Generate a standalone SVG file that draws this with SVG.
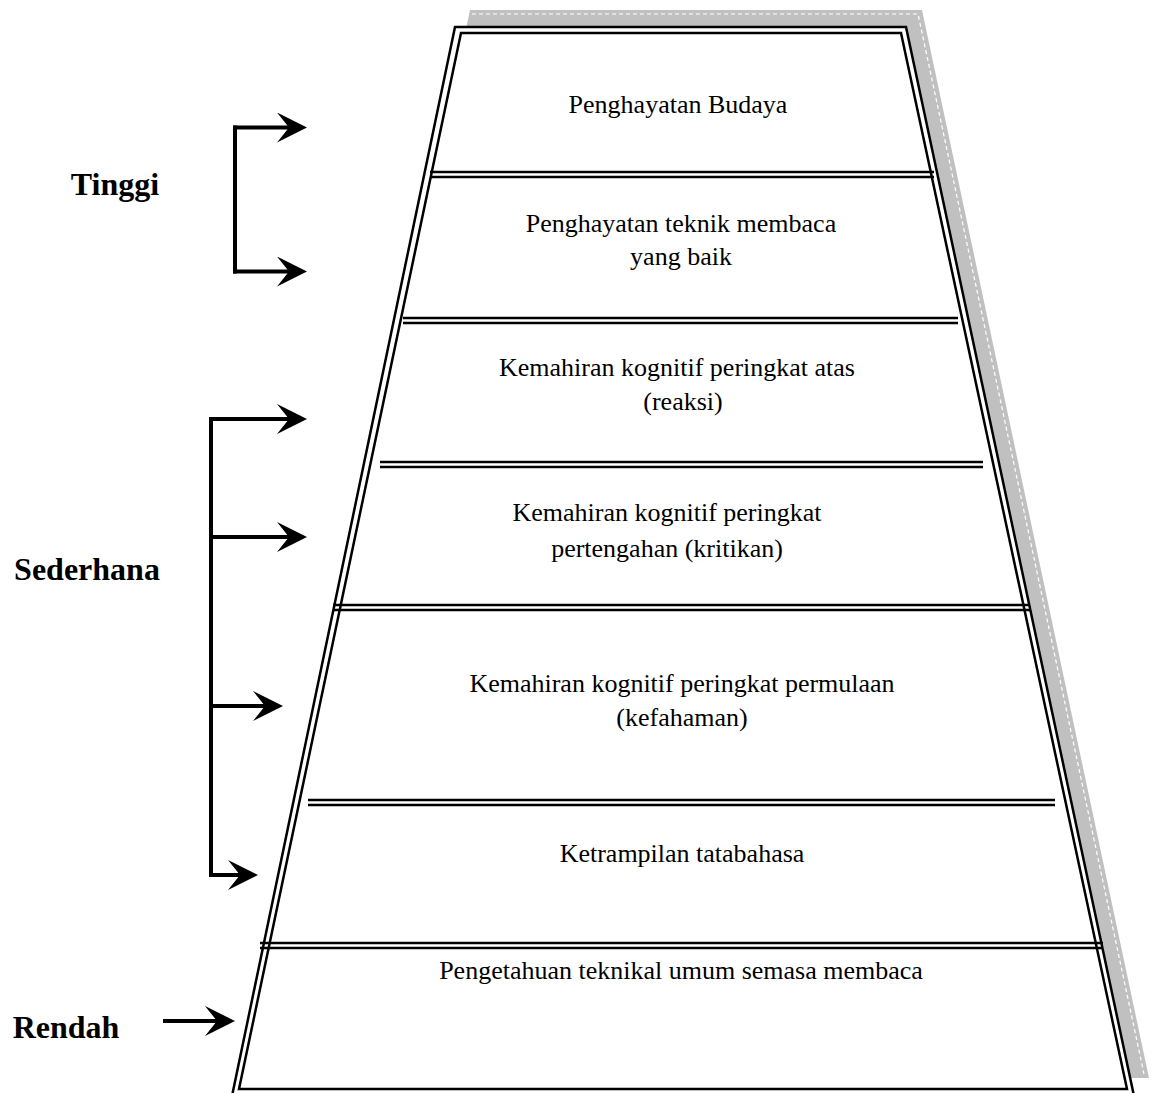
<svg xmlns="http://www.w3.org/2000/svg" width="1155" height="1093" viewBox="0 0 1155 1093">
<style>
.t{font-family:"Liberation Serif","Times New Roman",serif;font-size:26px;fill:#000;text-anchor:middle}
.b{font-family:"Liberation Serif","Times New Roman",serif;font-size:32px;font-weight:bold;fill:#000;text-anchor:middle}
.edge{fill:none;stroke:#000;stroke-width:2.5}
.div{stroke:#000;stroke-width:2.5}
.arr{fill:none;stroke:#000;stroke-width:4;stroke-linecap:square}
</style>
<defs>
<marker id="ah" viewBox="0 0 30 30" markerWidth="30" markerHeight="30" markerUnits="userSpaceOnUse" refX="12" refY="15" orient="auto">
<path d="M0,0 L30,15 L0,30 L12,15 Z" fill="#000"/>
</marker>
</defs>
<rect width="1155" height="1093" fill="#fff"/>
<g id="shadow">
<polygon points="470,10 922,10 1149,1078 248,1078" fill="#c0c0c0"/>
<polyline points="472,14 918,14 1144,1074" fill="none" stroke="#fff" stroke-width="1.2" stroke-dasharray="4,3"/>
</g>
<g id="pyramid">
<polygon points="455,27 906,27 1134,1096 232,1096" fill="#fff" stroke="#000" stroke-width="2.5"/>
<polygon points="461,33 901,33 1127,1089 239,1089" class="edge"/>
</g>
<g id="dividers">
<line class="div" x1="430" y1="172" x2="934" y2="172"/><line class="div" x1="430" y1="177" x2="934" y2="177"/>
<line class="div" x1="403" y1="318" x2="958" y2="318"/><line class="div" x1="403" y1="323" x2="958" y2="323"/>
<line class="div" x1="380" y1="462" x2="983" y2="462"/><line class="div" x1="380" y1="467" x2="983" y2="467"/>
<line class="div" x1="333" y1="605" x2="1030" y2="605"/><line class="div" x1="333" y1="610" x2="1030" y2="610"/>
<line class="div" x1="308" y1="800" x2="1055" y2="800"/><line class="div" x1="308" y1="805" x2="1055" y2="805"/>
<line class="div" x1="260" y1="943" x2="1103" y2="943"/><line class="div" x1="260" y1="948" x2="1103" y2="948"/>
</g>
<g id="level1"><text class="t" x="678" y="113">Penghayatan Budaya</text></g>
<g id="level2"><text class="t" x="681" y="232">Penghayatan teknik membaca</text><text class="t" x="681" y="265">yang baik</text></g>
<g id="level3"><text class="t" x="677" y="376">Kemahiran kognitif peringkat atas</text><text class="t" x="683" y="410">(reaksi)</text></g>
<g id="level4"><text class="t" x="667" y="521">Kemahiran kognitif peringkat</text><text class="t" x="667" y="557">pertengahan (kritikan)</text></g>
<g id="level5"><text class="t" x="682" y="692">Kemahiran kognitif peringkat permulaan</text><text class="t" x="682" y="726">(kefahaman)</text></g>
<g id="level6"><text class="t" x="682" y="862">Ketrampilan tatabahasa</text></g>
<g id="level7"><text class="t" x="681" y="979">Pengetahuan teknikal umum semasa membaca</text></g>
<g id="label-tinggi"><text class="b" x="115" y="195">Tinggi</text></g>
<g id="label-sederhana"><text class="b" x="87" y="580">Sederhana</text></g>
<g id="label-rendah"><text class="b" x="66" y="1038">Rendah</text></g>
<g id="connectors">
<path class="arr" d="M235,127.5 V271.5"/>
<path class="arr" d="M235,127.5 H289" marker-end="url(#ah)"/>
<path class="arr" d="M235,271.5 H289" marker-end="url(#ah)"/>
<path class="arr" d="M211,419 V875"/>
<path class="arr" d="M211,419 H289" marker-end="url(#ah)"/>
<path class="arr" d="M211,537 H289" marker-end="url(#ah)"/>
<path class="arr" d="M211,706 H265" marker-end="url(#ah)"/>
<path class="arr" d="M211,875 H240" marker-end="url(#ah)"/>
<path class="arr" d="M165,1021 H217" stroke-width="5" marker-end="url(#ah)"/>
</g>
</svg>
